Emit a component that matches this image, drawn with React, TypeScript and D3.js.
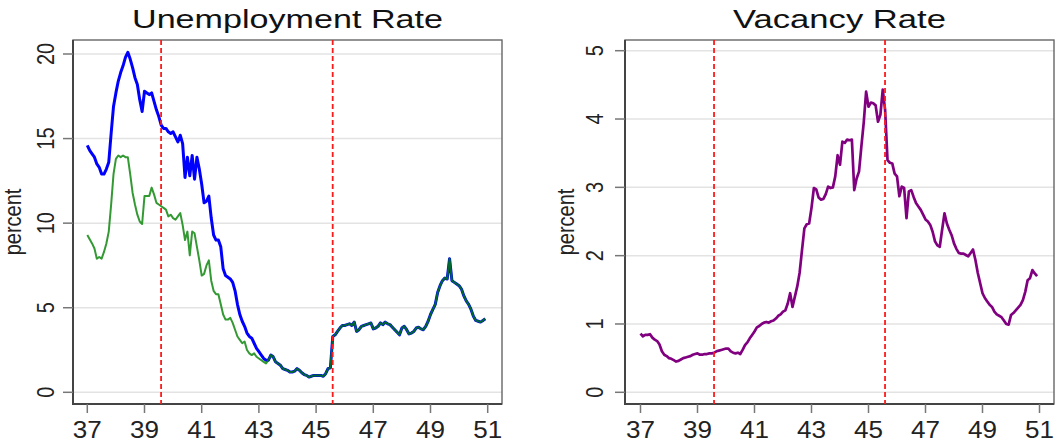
import React, { useEffect, useRef } from 'react';
import * as d3 from 'd3';

const startYear = 37;
const xTicks = [37, 39, 41, 43, 45, 47, 49, 51];
const unempTicks = [0, 5, 10, 15, 20];
const vacTicks = [0, 1, 2, 3, 4, 5];
const breakDates = [39.58, 45.58];

// monthly, Jan 1937 - Apr 1943 (before the two unemployment series merge)
const unempBlueEarly = [
  14.6, 14.3, 14.1, 13.9, 13.5, 13.3, 12.9, 12.9, 13.2, 13.6, 15.3, 16.9,
  17.7, 18.4, 18.9, 19.3, 19.8, 20.1, 19.7, 19.2, 18.6, 18.2, 17.3, 16.6,
  17.8, 17.7, 17.6, 17.7, 17.2, 16.7, 16.3, 15.8, 15.6, 15.6, 15.4, 15.3,
  15.4, 15.1, 14.8, 15.2, 14.7, 12.7, 13.9, 12.8, 14.0, 12.6, 13.9, 13.2,
  12.3, 11.2, 11.3, 11.6, 10.3, 9.3, 9.0, 9.0, 8.6, 7.3, 6.9, 6.8,
  6.7, 6.5, 6.0, 5.2, 4.6, 4.2, 3.9, 3.5, 3.3, 3.2, 2.9, 2.6,
  2.4, 2.2, 2.0, 1.9
];
const unempGreenEarly = [
  9.3, 9.05, 8.8, 8.5, 7.9, 8.0, 7.9, 8.3, 8.8, 9.5, 11.1, 12.9,
  13.8, 14.0, 13.9, 14.0, 13.9, 13.9, 12.9, 11.8, 11.1, 10.5, 10.1, 9.95,
  11.6, 11.6, 11.6, 12.1, 11.7, 11.2, 11.1, 11.0, 10.9, 10.8, 10.4, 10.5,
  10.3, 10.2, 10.4, 10.6, 9.9, 9.0, 9.5, 8.1, 9.5, 9.4, 8.6, 7.8,
  6.9, 7.0, 7.5, 7.8, 6.6, 6.0, 5.8, 5.8, 5.2, 4.6, 4.3, 4.3,
  4.4, 4.1, 3.7, 3.3, 3.1, 2.9, 3.0, 2.5, 2.3, 2.2, 2.3, 2.1,
  2.0, 1.9, 1.8, 1.7
];
// May 1943 - Dec 1950, both series identical
const unempCommon = [
  1.9, 2.2, 2.1, 1.8, 1.7, 1.6, 1.4, 1.35,
  1.3, 1.2, 1.2, 1.25, 1.4, 1.3, 1.15, 1.05, 1.0, 0.9, 0.95, 1.0,
  1.0, 1.0, 1.0, 0.95, 1.1, 1.4, 1.45, 3.3, 3.4, 3.6, 3.8, 3.95,
  3.95, 4.0, 4.05, 3.95, 4.15, 3.6, 3.7, 3.9, 3.95, 4.0, 4.05, 4.1,
  3.75, 3.8, 3.9, 4.1, 4.0, 4.15, 4.05, 4.0, 3.85, 3.7, 3.55, 3.4,
  3.8, 3.9, 3.7, 3.45, 3.5, 3.6, 3.8, 3.85, 3.75, 3.7, 3.9, 4.2,
  4.6, 4.9, 5.2, 5.9, 6.3, 6.6, 6.75, 6.7, 7.9, 6.6, 6.5, 6.4,
  6.3, 6.1, 5.7, 5.4, 5.2, 4.9, 4.5, 4.25, 4.2, 4.15, 4.25, 4.35
];
const vacancy = [
  0.86, 0.82, 0.84, 0.84, 0.85, 0.80, 0.77, 0.75, 0.70, 0.60, 0.55, 0.53,
  0.50, 0.49, 0.47, 0.45, 0.46, 0.48, 0.50, 0.51, 0.52, 0.53, 0.55, 0.56,
  0.57, 0.55, 0.55, 0.56, 0.56, 0.57, 0.57, 0.58, 0.60, 0.61, 0.62, 0.63,
  0.64, 0.64, 0.60, 0.58, 0.57, 0.58, 0.56, 0.62, 0.69, 0.73, 0.79, 0.84,
  0.89, 0.95, 0.97, 1.00, 1.02, 1.03, 1.02, 1.04, 1.05, 1.08, 1.12, 1.14,
  1.18, 1.20, 1.30, 1.45, 1.25, 1.40, 1.55, 1.75, 2.08, 2.40, 2.46, 2.47,
  2.70, 2.99, 2.97, 2.85, 2.82, 2.83, 2.90, 3.01, 2.99, 3.00, 3.16, 3.47,
  3.33, 3.67, 3.65, 3.70, 3.69, 3.70, 2.96, 3.13, 3.23, 3.60, 3.95, 4.40,
  4.18, 4.24, 4.23, 4.20, 3.96, 4.06, 4.43, 4.13, 3.40, 3.36, 3.35, 3.20,
  3.16, 2.87, 3.01, 2.99, 2.55, 2.94, 2.96, 2.86, 2.77, 2.72, 2.67, 2.60,
  2.53, 2.50, 2.45, 2.35, 2.21, 2.15, 2.13, 2.38, 2.62, 2.47, 2.38, 2.30,
  2.18, 2.10, 2.04, 2.03, 2.03, 2.01, 1.99, 2.04, 2.09, 1.94, 1.75, 1.60,
  1.45, 1.38, 1.33, 1.28, 1.25, 1.18, 1.14, 1.12, 1.10, 1.05, 1.00, 0.99,
  1.13, 1.16, 1.20, 1.24, 1.28, 1.35, 1.47, 1.64, 1.67, 1.79, 1.74, 1.70
];

const FONT = '"Liberation Sans", Arial, Helvetica, sans-serif';

function drawPanel(svg, p) {
  const g = svg.append('g');
  const x = d3.scaleLinear().domain([37, 51]).range(p.xRange);
  const y = d3.scaleLinear().domain(p.yDomain).range(p.yRange);
  const [fx0, fx1, fy0, fy1] = p.frame;

  // grid
  g.selectAll('.grid')
    .data(p.yTicks)
    .enter()
    .append('line')
    .attr('x1', fx0).attr('x2', fx1)
    .attr('y1', d => y(d)).attr('y2', d => y(d))
    .attr('stroke', '#e3e3e3')
    .attr('stroke-width', 1.5);

  // frame
  g.append('rect')
    .attr('x', fx0).attr('y', fy0)
    .attr('width', fx1 - fx0).attr('height', fy1 - fy0)
    .attr('fill', 'none')
    .attr('stroke', '#666')
    .attr('stroke-width', 1.4);
  g.append('path')
    .attr('d', `M${fx0},${fy0}V${fy1}H${fx1}`)
    .attr('fill', 'none')
    .attr('stroke', '#444')
    .attr('stroke-width', 2);

  // y ticks + labels
  g.selectAll('.ytick')
    .data(p.yTicks)
    .enter()
    .append('line')
    .attr('x1', fx0 - 10).attr('x2', fx0)
    .attr('y1', d => y(d)).attr('y2', d => y(d))
    .attr('stroke', '#777')
    .attr('stroke-width', 1.5);
  g.selectAll('.ylab')
    .data(p.yTicks)
    .enter()
    .append('text')
    .attr('transform', d => `translate(${p.yLabelX},${y(d)}) scale(1.2,1) rotate(-90)`)
    .attr('text-anchor', 'middle')
    .style('font-family', FONT)
    .style('font-size', '20px')
    .style('fill', '#222')
    .text(d => d);

  // x ticks + labels
  g.selectAll('.xtick')
    .data(xTicks)
    .enter()
    .append('line')
    .attr('x1', d => x(d)).attr('x2', d => x(d))
    .attr('y1', fy1).attr('y2', fy1 + 9)
    .attr('stroke', '#777')
    .attr('stroke-width', 1.5);
  g.selectAll('.xlab')
    .data(xTicks)
    .enter()
    .append('text')
    .attr('x', d => x(d))
    .attr('y', 438)
    .attr('text-anchor', 'middle')
    .attr('textLength', 29)
    .attr('lengthAdjust', 'spacingAndGlyphs')
    .style('font-family', FONT)
    .style('font-size', '23px')
    .style('fill', '#222')
    .text(d => d);

  // axis title
  g.append('text')
    .attr('transform', `translate(${p.percentX},${(fy0 + fy1) / 2}) scale(1.2,1) rotate(-90)`)
    .attr('text-anchor', 'middle')
    .style('font-family', FONT)
    .style('font-size', '20px')
    .style('fill', '#222')
    .text('percent');

  // panel title
  g.append('text')
    .attr('x', (fx0 + fx1) / 2)
    .attr('y', 28)
    .attr('text-anchor', 'middle')
    .attr('textLength', p.titleWidth)
    .attr('lengthAdjust', 'spacingAndGlyphs')
    .style('font-family', FONT)
    .style('font-size', '25px')
    .style('fill', '#111')
    .text(p.title);

  const line = d3.line()
    .x((d, i) => x(startYear + i / 12))
    .y(d => y(d));

  p.series.forEach(s => {
    g.append('path')
      .datum(s.values)
      .attr('d', line)
      .attr('fill', 'none')
      .attr('stroke', s.color)
      .attr('stroke-width', s.width)
      .attr('stroke-opacity', s.opacity)
      .attr('stroke-linejoin', 'round');
  });

  // break dates
  g.selectAll('.brk')
    .data(breakDates)
    .enter()
    .append('line')
    .attr('x1', d => x(d)).attr('x2', d => x(d))
    .attr('y1', fy0).attr('y2', fy1)
    .attr('stroke', '#ff1a1a')
    .attr('stroke-width', 1.8)
    .attr('stroke-dasharray', '5,3');
}

export default function App() {
  const svgRef = useRef(null);

  useEffect(() => {
    document.body.style.margin = '0';
    const svg = d3.select(svgRef.current);
    svg.selectAll('*').remove();

    svg.append('rect').attr('width', 1057).attr('height', 445).attr('fill', '#fff');

    drawPanel(svg, {
      title: 'Unemployment Rate',
      titleWidth: 311,
      xRange: [87.3, 487.7],
      yDomain: [0, 20],
      yRange: [392.3, 54],
      frame: [73, 502, 40, 404],
      yTicks: unempTicks,
      yLabelX: 54,
      percentX: 20.5,
      series: [
        { values: unempBlueEarly.concat(unempCommon), color: '#0000ff', width: 3, opacity: 1 },
        { values: unempGreenEarly.concat(unempCommon), color: '#008000', width: 2, opacity: 0.8 }
      ]
    });

    drawPanel(svg, {
      title: 'Vacancy Rate',
      titleWidth: 213,
      xRange: [640.5, 1039.5],
      yDomain: [0, 5],
      yRange: [392.3, 50.7],
      frame: [625, 1054, 40, 404],
      yTicks: vacTicks,
      yLabelX: 602.5,
      percentX: 574,
      series: [
        { values: vacancy, color: '#800080', width: 2.7, opacity: 1 }
      ]
    });
  }, []);

  return <svg ref={svgRef} width={1057} height={445} style={{ display: 'block' }} />;
}
